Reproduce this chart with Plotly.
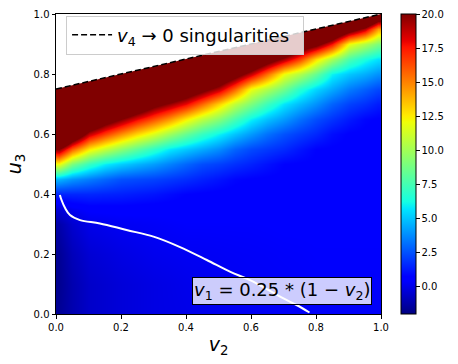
import numpy as np
import plotly.graph_objects as go

# grid of the heatmap (v2 columns, u3 rows)
V2 = [0.01, 0.05, 0.1, 0.15, 0.2, 0.25, 0.3, 0.35, 0.4, 0.45, 0.5, 0.55,
      0.6, 0.65, 0.7, 0.75, 0.8, 0.85, 0.9, 0.95, 0.99]
U3 = [0.005, 0.1, 0.2, 0.3, 0.35, 0.4, 0.45, 0.5, 0.55, 0.6, 0.65, 0.7,
      0.75, 0.8, 0.85, 0.9, 0.95, 1.0]

# values read per column, bottom to top
col_001 = [-1.6, -1.7, -1.6, -1.2, -0.3, 1.5, 4.7, 12, 20, 30, 40, 40, 40, 40, 40, 40, 40, 40]
col_005 = [-1.1, -1.1, -0.9, -0.5, 0.2, 1.55, 4.0, 9.0, 15.9, 24, 32, 40, 40, 40, 40, 40, 40, 40]
col_010 = [-0.6, -0.6, -0.4, 0.0, 0.5, 1.56, 3.45, 7.1, 12.6, 18.8, 25, 32, 40, 40, 40, 40, 40, 40]
col_015 = [-0.45, -0.45, -0.25, 0.1, 0.52, 1.48, 2.97, 5.88, 10.97, 16.6, 22, 29, 36, 40, 40, 40, 40, 40]
col_020 = [-0.3, -0.3, -0.1, 0.2, 0.55, 1.41, 2.5, 5.2, 9.5, 14.7, 20, 26, 33, 40, 40, 40, 40, 40]
col_025 = [-0.2, -0.2, 0.0, 0.25, 0.52, 1.28, 2.35, 4.65, 8.19, 13.0, 18, 23.5, 30, 37, 40, 40, 40, 40]
col_030 = [-0.1, -0.1, 0.1, 0.3, 0.5, 1.16, 2.19, 4.13, 6.9, 11.5, 16.2, 21, 27, 34, 40, 40, 40, 40]
col_035 = [-0.05, -0.03, 0.15, 0.35, 0.52, 0.95, 1.96, 3.53, 5.78, 9.86, 14.5, 19.5, 25, 31.5, 38, 40, 40, 40]
col_040 = [0.0, 0.05, 0.2, 0.4, 0.55, 0.75, 1.72, 2.94, 5.1, 8.4, 12.5, 17.9, 23, 29, 36, 40, 40, 40]
col_045 = [0.05, 0.1, 0.22, 0.4, 0.52, 0.68, 1.43, 2.4, 4.47, 7.1, 10.75, 15.6, 21, 27, 33, 40, 40, 40]
col_050 = [0.1, 0.15, 0.25, 0.4, 0.5, 0.62, 1.14, 2.11, 3.8, 6.0, 9.3, 13.1, 18.9, 24, 30, 37, 40, 40]
col_055 = [0.15, 0.2, 0.28, 0.4, 0.5, 0.6, 0.84, 1.76, 2.91, 4.97, 7.58, 10.74, 15.7, 21.5, 28, 35, 40, 40]
col_060 = [0.2, 0.25, 0.3, 0.4, 0.5, 0.6, 0.72, 1.45, 2.33, 4.06, 6.0, 9.0, 12.0, 18.7, 25, 32, 40, 40]
col_065 = [0.22, 0.27, 0.32, 0.42, 0.5, 0.58, 0.68, 1.1, 1.98, 3.2, 4.95, 7.26, 10.4, 15.5, 22, 29, 37, 40]
col_070 = [0.25, 0.3, 0.35, 0.45, 0.5, 0.58, 0.66, 0.75, 1.63, 2.5, 4.1, 5.7, 8.7, 12.0, 19.3, 26, 34, 40]
col_075 = [0.27, 0.32, 0.37, 0.45, 0.5, 0.56, 0.63, 0.7, 1.17, 2.02, 3.19, 4.75, 6.73, 10.4, 16.5, 23, 31, 40]
col_080 = [0.3, 0.35, 0.4, 0.45, 0.5, 0.55, 0.62, 0.68, 0.75, 1.58, 2.42, 3.87, 5.4, 8.4, 12.9, 21, 30, 40]
col_085 = [0.3, 0.35, 0.4, 0.45, 0.49, 0.52, 0.58, 0.64, 0.7, 1.0, 1.85, 2.88, 4.44, 6.0, 10.2, 17.6, 26, 37]
col_090 = [0.3, 0.35, 0.4, 0.45, 0.48, 0.5, 0.55, 0.6, 0.65, 0.7, 1.28, 2.15, 3.45, 5.05, 7.7, 12.0, 22, 35]
col_095 = [0.3, 0.35, 0.4, 0.45, 0.48, 0.5, 0.54, 0.58, 0.62, 0.66, 0.84, 1.76, 2.83, 4.5, 6.4, 10.4, 18.9, 30]
col_099 = [0.3, 0.35, 0.4, 0.45, 0.48, 0.5, 0.53, 0.56, 0.58, 0.6, 0.7, 1.33, 2.3, 3.9, 5.65, 9.0, 14.3, 25]

# v4 -> 0 singularity line
sing_v2 = [0.0, 1.0]
sing_u3 = [0.75, 1.0]

# white curve
curve_v2 = [0.012, 0.017, 0.028, 0.043, 0.074, 0.135, 0.217, 0.30, 0.38,
            0.464, 0.535, 0.597, 0.70, 0.74, 0.78]
curve_u3 = [0.397, 0.38, 0.353, 0.33, 0.313, 0.302, 0.28, 0.258, 0.224,
            0.18, 0.141, 0.113, 0.052, 0.03, 0.005]

# matplotlib jet
JET = [
    [0.0, "rgb(0,0,128)"], [0.11, "rgb(0,0,255)"], [0.125, "rgb(0,0,255)"],
    [0.34, "rgb(0,219,255)"], [0.35, "rgb(0,229,255)"], [0.375, "rgb(21,255,226)"],
    [0.64, "rgb(239,255,8)"], [0.65, "rgb(247,245,0)"], [0.66, "rgb(255,236,0)"],
    [0.89, "rgb(255,19,0)"], [0.91, "rgb(232,0,0)"], [1.0, "rgb(128,0,0)"],
]

FONT = "DejaVu Sans"

z = np.array([col_001, col_005, col_010, col_015, col_020, col_025, col_030,
              col_035, col_040, col_045, col_050, col_055, col_060, col_065,
              col_070, col_075, col_080, col_085, col_090, col_095, col_099]).T

fig = go.Figure()

fig.add_trace(go.Heatmap(
    x=V2, y=U3, z=z,
    zmin=-2, zmax=20,
    zsmooth="best",
    colorscale=JET,
    showscale=True,
    colorbar=dict(
        x=1.0615, xanchor="left", xpad=0,
        y=0, yanchor="bottom", len=1, lenmode="fraction", ypad=0,
        thickness=15,
        outlinecolor="black", outlinewidth=1,
        tickvals=[0, 2.5, 5, 7.5, 10, 12.5, 15, 17.5, 20],
        tickformat=".1f",
        ticks="outside", ticklen=3.5, tickcolor="black",
        tickfont=dict(family=FONT, size=10, color="black"),
    ),
    hoverinfo="skip",
))

# blank out the region beyond the singularity line
fig.add_trace(go.Scatter(
    x=sing_v2 + [sing_v2[-1], sing_v2[0]],
    y=sing_u3 + [1.05, 1.05],
    fill="toself", fillcolor="white",
    mode="lines", line=dict(width=0, color="white"),
    showlegend=False, hoverinfo="skip",
))

fig.add_trace(go.Scatter(
    x=curve_v2, y=curve_u3,
    mode="lines", line=dict(color="white", width=2, shape="spline"),
    showlegend=False, hoverinfo="skip",
))

fig.add_trace(go.Scatter(
    x=sing_v2, y=sing_u3,
    mode="lines", line=dict(color="black", width=1.5, dash="6px,3px"),
    name="<i>v</i><sub>4</sub> \u2192 0 singularities\u2002",
))

fig.add_annotation(
    x=0.695, y=0.078, xref="x", yref="y",
    text="<i>v</i><sub>1</sub> = 0.25 * (1 \u2212 <i>v</i><sub>2</sub>)",
    showarrow=False,
    font=dict(family=FONT, size=18, color="black"),
    bgcolor="rgba(255,255,255,0.8)",
    bordercolor="black", borderwidth=1, borderpad=1,
    xanchor="center", yanchor="middle",
)

axis_common = dict(
    range=[0, 1], showgrid=False, zeroline=False,
    showline=True, linecolor="black", linewidth=1, mirror=True,
    ticks="outside", ticklen=3.5, tickcolor="black",
    tickvals=[0, 0.2, 0.4, 0.6, 0.8, 1.0], tickformat=".1f",
    tickfont=dict(family=FONT, size=10, color="black"),
    automargin=False,
)

fig.update_xaxes(**axis_common,
                 title=dict(text="<i>v</i><sub>2</sub>", standoff=6,
                            font=dict(family=FONT, size=19, color="black")))
fig.update_yaxes(**axis_common,
                 title=dict(text="<i>u</i><sub>3</sub>", standoff=6,
                            font=dict(family=FONT, size=19, color="black")))

fig.update_layout(
    width=458, height=364,
    margin=dict(l=56, r=77, t=14, b=50, autoexpand=False),
    paper_bgcolor="white", plot_bgcolor="white",
    font=dict(family=FONT, color="black"),
    legend=dict(
        x=0.031, y=0.995, xanchor="left", yanchor="top",
        itemwidth=40,
        bgcolor="rgba(255,255,255,0.8)",
        bordercolor="#cccccc", borderwidth=1,
        font=dict(family=FONT, size=18, color="black"),
    ),
)

# drop the default page margin so the figure sits at the window corner
fig.write_html("out.html", config={"displayModeBar": False},
               post_script="document.body.style.margin='0';")
